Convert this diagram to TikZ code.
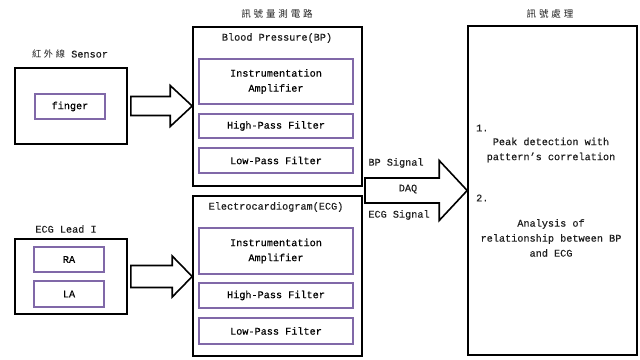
\documentclass[tikz,border=0pt]{standalone}
\usepackage{fontspec}
\setmainfont[FakeBold=0.4]{Liberation Mono}
\newfontfamily\cjk[LetterSpace=30]{Noto Sans CJK TC}
\usetikzlibrary{calc}
\definecolor{boxpurple}{RGB}{128,104,168}
\definecolor{inkgray}{RGB}{30,30,30}
\tikzset{
  outerbox/.style={draw=black, line width=1.6pt, inner sep=0pt},
  innerbox/.style={draw=boxpurple, line width=1.3pt, inner sep=0pt, align=center},
  lbl/.style={text=inkgray, inner sep=0pt, align=center},
  fatline/.style={draw=black, line width=1.6pt, fill=white, line join=miter}
}
% #1 tail, #2 tip, #3 half shaft, #4 half head, #5 head length
\newcommand{\fatarrow}[5]{%
  \draw[fatline] let \p1=#1, \p2=#2 in
    (\x1,\y1+#3) -- (\x2-#5,\y1+#3) -- (\x2-#5,\y1+#4) -- (\x2,\y1)
    -- (\x2-#5,\y1-#4) -- (\x2-#5,\y1-#3) -- (\x1,\y1-#3) -- cycle;}
\begin{document}
\begin{tikzpicture}[x=1pt,y=-1pt,font=\fontsize{10.2}{15}\selectfont]
  \useasboundingbox[fill=white] (0,0) rectangle (640,359);

  % sensor side
  \node[lbl] (irlabel) at (70,54) {{\cjk\fontsize{9.2}{11}\selectfont 紅外線} Sensor};
  \node[outerbox, minimum width=112pt, minimum height=76pt] (sensor) at (71,106) {};
  \node[innerbox, minimum width=70pt, minimum height=25pt] (finger) at (70,106.5) {finger};

  \node[lbl] (leadlabel) at (66,229) {ECG Lead I};
  \node[outerbox, minimum width=112pt, minimum height=75pt] (lead) at (71,276.5) {};
  \node[innerbox, minimum width=70pt, minimum height=25pt] (ra) at (69,259.5) {RA};
  \node[innerbox, minimum width=70pt, minimum height=26pt] (la) at (69,294) {LA};

  % measurement circuits
  \node[lbl] (measlabel) at (277,14) {\cjk\fontsize{9.5}{11}\selectfont 訊號量測電路};
  \node[outerbox, minimum width=169pt, minimum height=159pt] (bp) at (277.5,106.5) {};
  \node[lbl] (bptitle) at (277,38) {Blood Pressure(BP)};
  \node[innerbox, minimum width=154pt, minimum height=45pt] (ia1) at (276,81.5) {Instrumentation\\Amplifier};
  \node[innerbox, minimum width=154pt, minimum height=24pt] (hp1) at (276,126) {High-Pass Filter};
  \node[innerbox, minimum width=154pt, minimum height=25pt] (lp1) at (276,160.5) {Low-Pass Filter};

  \node[outerbox, minimum width=169pt, minimum height=160pt] (ecg) at (277.5,276) {};
  \node[lbl] (ecgtitle) at (276,207) {Electrocardiogram(ECG)};
  \node[innerbox, minimum width=154pt, minimum height=46pt] (ia2) at (276,251) {Instrumentation\\Amplifier};
  \node[innerbox, minimum width=154pt, minimum height=25pt] (hp2) at (276,295.5) {High-Pass Filter};
  \node[innerbox, minimum width=154pt, minimum height=26pt] (lp2) at (276,331) {Low-Pass Filter};

  % processing
  \node[lbl] (proclabel) at (550,14) {\cjk\fontsize{9.5}{11}\selectfont 訊號處理};
  \node[outerbox, minimum width=169pt, minimum height=329pt] (proc) at (552.5,190.5) {};
  \node[lbl, anchor=west] (one) at (476,128) {1.};
  \node[lbl] (peak) at (551,150) {Peak detection with\\pattern's correlation};
  \node[lbl, anchor=west] (two) at (476,198) {2.};
  \node[lbl] (analysis) at (551,238) {Analysis of\\relationship between BP\\and ECG};

  % arrows
  \fatarrow{($(sensor.east)+(3,0)$)}{(bp.west)}{9.5}{20.5}{22}
  \fatarrow{($(lead.east)+(3,0)$)}{(ecg.west)}{11}{20.5}{20}
  \coordinate (daqin) at (365,190.5);
  \fatarrow{(daqin)}{(proc.west)}{12.5}{30}{28}
  \node[lbl] (bpsig) at (396,163) {BP Signal};
  \node[lbl] (daq) at (408,189) {DAQ};
  \node[lbl] (ecgsig) at (399,215) {ECG Signal};
\end{tikzpicture}
\end{document}
